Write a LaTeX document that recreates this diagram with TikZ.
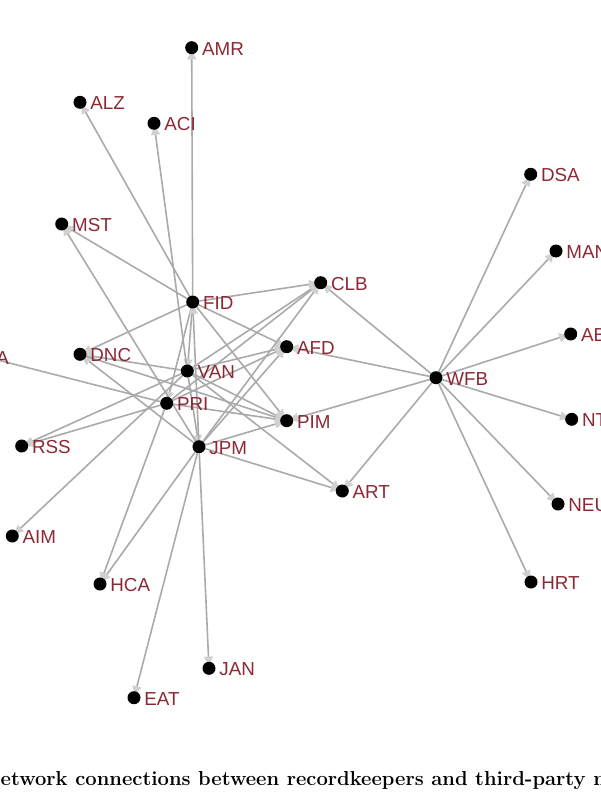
\documentclass[tikz,border=0pt]{standalone}
\usepackage{fontspec}
\newfontfamily\lblfont{Liberation Sans}
\usetikzlibrary{arrows.meta}
\definecolor{lblred}{RGB}{140,40,52}
\definecolor{edgegrey}{RGB}{170,170,170}
\definecolor{arrowgrey}{RGB}{208,208,208}
\pgfdeclarelayer{background}
\pgfsetlayers{background,main}
\begin{document}
\begin{tikzpicture}[x=1pt,y=-1pt,
  lbl/.style={inner sep=0pt, text=lblred, font=\lblfont\fontsize{18.8}{20}\selectfont, label distance=3.5pt, yshift=-1pt},
  dot/.style={circle, fill=black, inner sep=0pt, minimum size=13pt, label={[lbl]0:#1}},
  link/.style={draw=edgegrey, line width=1.6pt, shorten >=-4pt, -{Triangle[length=9pt,width=9pt,color=arrowgrey]}},
  capt/.style={anchor=base west, inner sep=0pt, font=\fontsize{20.2}{22}\selectfont\bfseries}]
\useasboundingbox (0,0) rectangle (600,800);
\clip (0,0) rectangle (600,800);
% nodes
\node[dot=AMR] (AMR) at (191.7,47.7) {};
\node[dot=ALZ] (ALZ) at (80,102.3) {};
\node[dot=ACI] (ACI) at (154,123.3) {};
\node[dot=MST] (MST) at (61.7,224) {};
\node[dot=FID] (FID) at (192.7,302) {};
\node[dot=CLB] (CLB) at (320.7,282.7) {};
\node[dot=DNC] (DNC) at (80,354.3) {};
\node[dot=AFD] (AFD) at (286.7,346.7) {};
\node[dot=VAN] (VAN) at (187.3,371) {};
\node[dot=PRI] (PRI) at (166.7,403.3) {};
\node[dot=PIM] (PIM) at (286.7,420.7) {};
\node[dot=RSS] (RSS) at (21.7,446) {};
\node[dot=JPM] (JPM) at (199,446.7) {};
\node[dot=ART] (ART) at (342.3,491) {};
\node[dot=AIM] (AIM) at (12.3,536) {};
\node[dot=HCA] (HCA) at (100,584) {};
\node[dot=JAN] (JAN) at (209,668.3) {};
\node[dot=EAT] (EAT) at (134,697.7) {};
\node[dot=A] (A) at (-14,357) {};
\node[dot=WFB] (WFB) at (436,377.7) {};
\node[dot=DSA] (DSA) at (530.7,174.3) {};
\node[dot=MAN] (MAN) at (556,251) {};
\node[dot=AB] (AB) at (570.7,334) {};
\node[dot=NT] (NT) at (571.7,419.3) {};
\node[dot=NEU] (NEU) at (558,504) {};
\node[dot=HRT] (HRT) at (531,582) {};
% caption
\node[capt] (cap) at (0.5,785) {etwork connections between recordkeepers and third-party m};
% edges
\begin{pgfonlayer}{background}
\foreach \s/\t in {FID/AMR, FID/ALZ, FID/MST, FID/CLB, FID/AFD, FID/DNC, FID/PIM, FID/VAN, FID/PRI,
  VAN/ACI, VAN/CLB, VAN/AFD, VAN/PIM, VAN/ART, VAN/DNC, VAN/RSS, VAN/AIM, VAN/JPM,
  JPM/FID, JPM/MST, JPM/DNC, JPM/HCA, JPM/EAT, JPM/JAN, JPM/ART, JPM/PIM, JPM/AFD, JPM/CLB,
  PRI/A, PRI/RSS, PRI/HCA, PRI/CLB, PRI/AFD, PRI/PIM, DNC/PIM,
  WFB/DSA, WFB/MAN, WFB/AB, WFB/NT, WFB/NEU, WFB/HRT, WFB/CLB, WFB/ART, WFB/PIM, WFB/AFD}
  \draw[link] (\s) -- (\t);
\end{pgfonlayer}
\end{tikzpicture}
\end{document}
